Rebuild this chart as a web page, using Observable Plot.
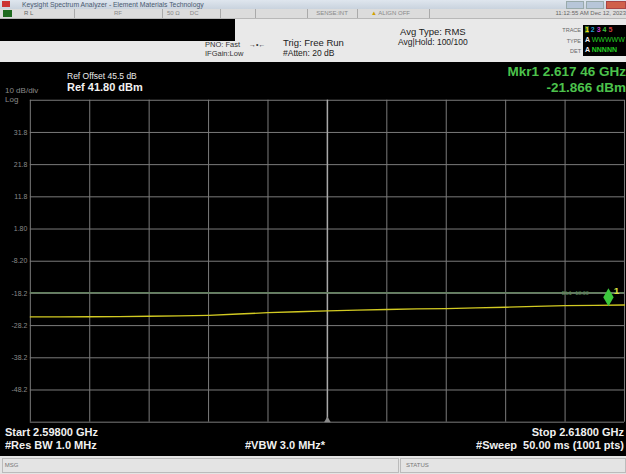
<!DOCTYPE html>
<html><head><meta charset="utf-8">
<script src="https://cdn.jsdelivr.net/npm/d3@7"></script>
<script src="https://cdn.jsdelivr.net/npm/@observablehq/plot@0.6"></script>
<style>
html,body{margin:0;padding:0;width:626px;height:474px;overflow:hidden;background:#e9e9e9;font-family:"Liberation Sans",Arial,sans-serif;}
.abs{position:absolute;white-space:nowrap;}
#titlebar{left:0;top:0;width:626px;height:9px;background:linear-gradient(#dfe6ee,#c9d3de);}
#statusrow{left:0;top:9px;width:626px;height:9px;background:#dcdcdc;border-bottom:1px solid #b8b8b8;}
.cell{position:absolute;top:0;height:9px;border-right:1px solid #aaa;font-size:6px;line-height:9px;color:#888;}
#screen{left:0;top:62px;width:626px;height:394px;background:#000;overflow:hidden;}
#bottombar{left:0;top:456px;width:626px;height:18px;background:#e4e4e4;}
</style></head>
<body>
<div id="titlebar" class="abs">
  <div class="abs" style="left:2px;top:1px;width:8px;height:6px;background:#c33;"></div>
  <div class="abs" style="left:22px;top:0;font-size:6.8px;line-height:9px;color:#4a5a70;">Keysight Spectrum Analyzer - Element Materials Technology</div>
  <div class="abs" style="left:566px;top:1px;width:16px;height:6px;background:#b7c6d8;border:1px solid #9aa;"></div>
  <div class="abs" style="left:586px;top:1px;width:16px;height:6px;background:#b7c6d8;border:1px solid #9aa;"></div>
  <div class="abs" style="left:606px;top:1px;width:18px;height:6px;background:#d0604a;border:1px solid #a44;"></div>
</div>
<div id="statusrow" class="abs">
  <div class="abs" style="left:3px;top:1px;width:9px;height:7px;background:#1f6b1f;"></div>
  <div class="cell" style="left:14px;width:60px;"><span style="margin-left:10px;color:#666">R L</span></div>
  <div class="cell" style="left:74px;width:88px;text-align:center;">RF</div>
  <div class="cell" style="left:162px;width:58px;"><span style="margin-left:5px">50 Ω</span><span style="margin-left:10px">DC</span></div>
  <div class="cell" style="left:220px;width:35px;"></div>
  <div class="cell" style="left:255px;width:52px;"></div>
  <div class="cell" style="left:307px;width:50px;text-align:center;">SENSE:INT</div>
  <div class="cell" style="left:357px;width:72px;"><span style="margin-left:14px;color:#d0a000">▲</span> ALIGN OFF</div>
  <div class="cell" style="left:429px;width:197px;border-right:none;text-align:right;color:#666;">11:12:55 AM Dec 12, 2023</div>
</div>
<div class="abs" style="left:0;top:19px;width:235px;height:22px;background:#000;"></div>
<div class="abs" style="left:205px;top:40px;font-size:7.5px;color:#333;">PNO: Fast</div>
<div class="abs" style="left:205px;top:49px;font-size:7.5px;color:#333;">IFGain:Low</div>
<div class="abs" style="left:249px;top:41px;font-size:7px;color:#333;">→•←</div>
<div class="abs" style="left:283px;top:37px;font-size:9.5px;color:#222;">Trig: Free Run</div>
<div class="abs" style="left:283px;top:48px;font-size:8.5px;color:#222;">#Atten: 20 dB</div>
<div class="abs" style="left:400px;top:26px;font-size:9.5px;color:#222;">Avg Type: RMS</div>
<div class="abs" style="left:398px;top:37px;font-size:8.5px;color:#222;">Avg|Hold: 100/100</div>
<div class="abs" style="left:555px;top:27px;font-size:5.5px;color:#666;width:26px;text-align:right;">TRACE</div>
<div class="abs" style="left:555px;top:38px;font-size:5.5px;color:#666;width:26px;text-align:right;">TYPE</div>
<div class="abs" style="left:555px;top:48px;font-size:5.5px;color:#666;width:26px;text-align:right;">DET</div>
<div class="abs" style="left:583px;top:25px;width:43px;height:31px;background:#000;font-size:7px;line-height:10px;font-weight:bold;">
  <div style="margin-left:2px;"><span style="color:#ffe000;background:#2a5a2a">1</span> <span style="color:#20a0d0">2</span> <span style="color:#d040d0">3</span> <span style="color:#40c040">4</span> <span style="color:#d04040">5</span></div>
  <div style="margin-left:2px;color:#eee;">A <span style="color:#2c2;font-weight:normal;">WWWWW</span></div>
  <div style="margin-left:2px;color:#eee;">A <span style="color:#2c2;">NNNNN</span></div>
</div>

<div id="screen" class="abs"></div>

<div id="bottombar" class="abs">
  <div class="abs" style="left:2px;top:2px;width:395px;height:13px;border:1px solid #bbb;font-size:6px;line-height:13px;color:#777;">&nbsp;MSG</div>
  <div class="abs" style="left:400px;top:2px;width:224px;height:13px;border:1px solid #bbb;font-size:6px;line-height:13px;color:#777;">&nbsp;&nbsp;&nbsp;STATUS</div>
</div>

<script>
// ---- data ----
const freqGHz = [2.598,2.599,2.600,2.601,2.602,2.603,2.604,2.605,2.606,2.607,2.608,2.609,2.610,2.611,2.612,2.613,2.614,2.615,2.616,2.617,2.618];
const levelDBm = [-25.5,-25.5,-25.45,-25.4,-25.3,-25.2,-25.0,-24.6,-24.2,-23.9,-23.6,-23.4,-23.2,-23.0,-22.9,-22.7,-22.5,-22.2,-22.0,-21.9,-21.8];
const gridY = [41.8,31.8,21.8,11.8,1.8,-8.2,-18.2,-28.2,-38.2,-48.2,-58.2];
const yTickVals = [31.8,21.8,11.8,1.8,-8.2,-18.2,-28.2,-38.2,-48.2];
const yTickLabels = ["31.8","21.8","11.8","1.80","-8.20","-18.2","-28.2","-38.2","-48.2"];
const gridX = [2.598,2.600,2.602,2.604,2.606,2.608,2.610,2.612,2.614,2.616,2.618];
const displayLine = [-18.0];
const marker = [{f: 2.61746, v: -21.866}];

const trace = freqGHz.map((f,i)=>({f, v: levelDBm[i]}));
const labelOf = new Map(yTickVals.map((v,i)=>[v, yTickLabels[i]]));

const chart = Plot.plot({
  width: 630, height: 394,
  marginTop: 38, marginBottom: 32, marginLeft: 30, marginRight: 2,
  style: {background: "#000", fontFamily: "Liberation Sans, Arial, sans-serif", overflow: "visible"},
  x: {domain: [2.598, 2.618], axis: null},
  y: {domain: [-58.2, 41.8], axis: null},
  marks: [
    Plot.ruleY(gridY, {stroke: "#7c7c7c", strokeWidth: 1}),
    Plot.ruleX(gridX, {stroke: "#7c7c7c", strokeWidth: 1}),
    Plot.ruleX([2.608], {stroke: "#a8a8a8", strokeWidth: 1.5}),
    Plot.ruleY(displayLine, {stroke: "#62805e", strokeWidth: 1.5}),
    Plot.axisY(yTickVals, {label: null, tickSize: 0, tickPadding: 3, fontSize: 7, fill: "#8a8a8a", tickFormat: d => labelOf.get(d)}),
    Plot.line(trace, {x: "f", y: "v", stroke: "#d2ca22", strokeWidth: 1.3}),
    Plot.text(["DL1 -18.00"], {x: 2.6168, y: displayLine[0], text: d => d, textAnchor: "end", fontSize: 5.5, fill: "#5d8a5a"}),
    Plot.dot(marker, {x: "f", y: "v", symbol: "diamond", r: 5.5, fill: "#3cc83c", dy: -8}),
    Plot.text(["1"], {x: marker[0].f, y: marker[0].v, text: d => d, dx: 8, dy: -14, fontSize: 10, fontWeight: "bold", fill: "#d8e040"}),
    Plot.dot([2.608], {x: d => d, y: -57.6, symbol: "triangle", r: 2.5, fill: "#8a8a8a"})
  ]
});
document.getElementById("screen").appendChild(chart);

// screen texts
const screen = document.getElementById("screen");
function addText(html, css) {
  const d = document.createElement("div");
  d.className = "abs";
  d.innerHTML = html;
  d.style.cssText += css;
  screen.appendChild(d);
}
addText("10 dB/div", "left:5px;top:24px;font-size:8px;line-height:9px;color:#8a8a8a;");
addText("Log", "left:5px;top:33px;font-size:8px;line-height:9px;color:#8a8a8a;");
addText("Ref Offset 45.5 dB", "left:67px;top:9px;font-size:8.5px;color:#eaeaea;");
addText("Ref 41.80 dBm", "left:67px;top:19px;font-size:11px;font-weight:bold;color:#f2f2f2;");
addText("Mkr1 2.617 46 GHz", "right:0px;top:2px;font-size:13.5px;font-weight:bold;color:#4cc24c;");
addText("-21.866 dBm", "right:0px;top:18px;font-size:13.5px;font-weight:bold;color:#4cc24c;");
addText("Start 2.59800 GHz", "left:5px;top:364px;font-size:11px;font-weight:bold;color:#f0f0f0;");
addText("#Res BW 1.0 MHz", "left:5px;top:377px;font-size:11px;font-weight:bold;color:#f0f0f0;");
addText("#VBW 3.0 MHz*", "left:245px;top:377px;font-size:11px;font-weight:bold;color:#f0f0f0;");
addText("Stop 2.61800 GHz", "right:2px;top:364px;font-size:11px;font-weight:bold;color:#f0f0f0;");
addText("#Sweep&nbsp;&nbsp;50.00 ms (1001 pts)", "right:2px;top:377px;font-size:11px;font-weight:bold;color:#f0f0f0;");
</script>
</body></html>
